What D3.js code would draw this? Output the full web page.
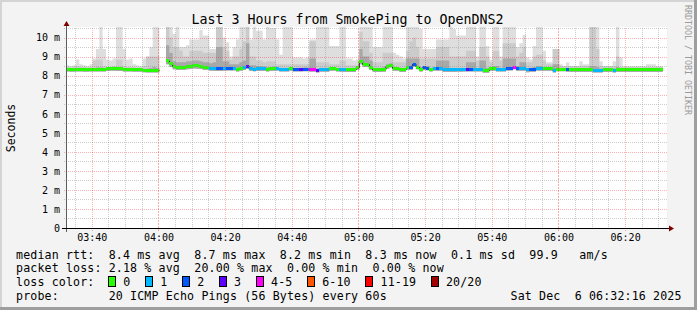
<!DOCTYPE html>
<html><head><meta charset="utf-8">
<script src="https://cdn.jsdelivr.net/npm/d3@7"></script>
<style>
html,body{margin:0;padding:0;background:#f3f3f3;overflow:hidden}
svg{display:block}
text{font-family:"DejaVu Sans Mono",monospace;fill:#000}
</style></head><body>
<svg id="c" width="697" height="310"></svg>
<script>
// ---------- DATA (one value per minute, 03:32:16 → 06:32:16) ----------
const startTime = new Date(2025, 11, 6, 3, 32, 16);
const stepMinutes = 1;
const median = [
 8.32,8.30,8.30,8.32,8.33,8.30,8.30,8.31,8.33,8.33,
 8.33,8.33,8.35,8.37,8.37,8.36,8.35,8.33,8.33,8.32,
 8.31,8.30,8.30,8.28,8.27,8.27,8.27,8.27,null,null,
 8.77,8.62,8.47,8.45,8.45,8.45,8.48,8.50,8.55,8.52,
 8.50,8.42,8.42,8.37,8.37,8.36,8.35,8.37,8.38,8.38,
 8.38,8.32,8.38,8.42,8.48,8.35,8.34,8.35,8.35,8.35,
 8.33,8.35,8.38,8.36,8.32,8.32,8.33,8.36,8.32,8.33,
 8.32,8.34,8.34,8.32,8.32,8.27,8.31,8.31,8.31,8.37,
 8.38,8.33,8.31,8.30,8.30,8.30,8.30,8.42,8.74,8.58,
 8.58,8.41,8.30,8.30,8.30,8.32,8.49,8.55,8.37,8.37,
 8.30,8.30,8.41,8.41,8.60,8.45,8.32,8.42,8.40,8.32,
 8.36,8.36,8.37,8.30,8.30,8.30,8.30,8.31,8.31,8.32,
 8.32,8.32,8.32,8.32,8.32,8.27,8.27,8.36,8.36,8.32,
 8.32,8.32,8.38,8.38,8.45,8.37,8.37,8.36,8.30,8.32,
 8.32,8.36,8.36,8.36,8.36,8.36,8.29,8.34,8.34,8.34,
 8.31,8.30,8.30,8.30,8.30,8.30,8.30,8.30,8.29,8.29,
 8.29,8.30,8.30,8.30,8.29,8.30,8.30,8.30,8.30,8.30,
 8.30,8.30,8.30,8.30,8.30,8.30,8.30,8.30,8.30,null];
// lost pings (out of 20) per minute
const lossCount = [
 0,0,0,0,0,0,0,0,0,0, 0,0,0,0,0,0,0,0,0,0,
 0,0,0,0,0,0,0,0,0,0, 0,0,0,0,0,0,0,0,0,0,
 0,0,0,1,1,2,2,1,2,2, 1,0,0,1,3,1,1,1,1,1,
 0,0,0,1,1,1,1,0,2,2, 3,2,2,4,4,3,1,1,1,0,
 0,0,1,1,0,0,0,0,0,0, 0,0,0,0,0,0,0,0,0,0,
 0,0,0,2,2,0,0,2,2,0, 1,2,1,1,1,1,1,1,1,1,
 3,2,1,1,1,0,0,0,0,1, 1,1,2,2,4,2,1,1,1,2,
 2,1,1,0,0,0,1,0,0,0, 2,0,0,0,0,0,0,0,1,1,
 1,0,0,0,1,0,0,0,0,0, 0,0,0,0,0,0,0,0,0,0];
const smokeMax = [
 8.55,8.50,8.55,8.85,8.60,8.55,8.50,8.60,8.90,9.40,
 10.6,9.40,8.85,8.80,8.90,10.6,10.6,9.40,8.85,8.90,
 8.60,8.55,8.50,8.90,8.95,9.50,10.6,10.6,null,null,
 10.6,10.6,10.2,10.6,9.50,9.50,9.60,9.90,9.90,9.90,
 10.4,10.1,10.1,9.40,9.40,10.6,10.6,10.0,9.75,9.00,
 9.50,9.90,10.6,10.6,10.6,9.90,10.6,10.35,10.35,9.90,
 10.6,10.5,10.5,9.90,9.10,10.6,10.6,10.6,8.95,8.95,
 8.95,8.90,8.95,9.90,9.90,10.6,10.6,10.6,10.6,9.55,
 9.55,9.55,10.6,10.6,8.90,8.90,8.80,8.85,10.6,10.6,
 10.6,10.6,9.50,9.50,9.50,10.6,10.6,10.6,9.20,9.10,
 9.00,8.90,10.6,10.6,10.6,10.6,10.45,9.40,9.40,9.40,
 9.40,9.90,9.90,9.90,9.90,10.6,10.45,10.1,10.1,10.1,
 10.6,10.6,10.6,9.00,10.6,10.6,9.55,8.85,10.6,10.6,
 9.00,10.6,10.6,10.6,10.6,9.50,9.70,10.15,8.95,8.85,
 9.55,10.6,10.6,9.30,8.70,8.70,9.40,9.40,8.60,8.50,
 8.70,8.50,8.50,8.50,8.75,8.60,8.60,10.6,10.6,10.6,
 8.75,8.50,8.50,8.50,8.75,10.6,8.95,8.50,8.50,8.50,
 8.50,8.50,8.50,8.50,8.60,8.60,8.60,8.50,8.50,null];
const smokeMid = [
 8.45,8.42,8.45,8.50,8.45,8.45,8.42,8.45,8.80,8.85,
 8.85,8.50,8.45,8.45,8.50,8.85,8.85,8.50,8.45,8.45,
 8.45,8.42,8.42,8.50,9.00,9.00,9.00,9.00,null,null,
 10.6,10.0,9.50,9.50,9.30,9.00,9.00,9.30,9.30,9.30,
 9.30,9.20,9.20,9.20,9.20,10.6,10.6,9.50,9.30,8.85,
 9.00,9.00,9.40,9.80,10.6,9.00,9.00,8.80,8.80,8.70,
 8.75,8.75,8.75,8.60,8.60,8.60,8.60,8.60,8.60,8.60,
 8.60,8.60,8.60,9.80,9.80,8.70,8.70,8.70,8.70,8.60,
 8.60,8.60,8.80,8.80,8.55,8.55,8.55,8.55,10.3,9.80,
 9.80,9.20,8.70,8.70,8.70,9.20,9.20,9.20,8.70,8.70,
 8.70,8.70,9.30,9.80,10.0,9.50,8.90,8.90,8.90,8.90,
 8.90,9.50,9.50,9.50,9.50,9.00,9.00,9.00,9.00,9.00,
 9.30,9.30,9.30,8.80,9.50,9.50,9.00,8.70,9.30,9.30,
 8.80,9.70,9.70,9.70,9.70,9.00,9.20,9.50,8.70,8.70,
 9.00,9.10,9.10,8.80,8.60,8.60,9.40,9.40,8.50,8.50,
 8.50,8.50,8.50,8.50,8.50,8.50,8.50,10.6,10.6,9.40,
 8.50,8.50,8.50,8.50,8.50,9.00,8.45,8.45,8.45,8.45,
 8.45,8.45,8.45,8.45,8.45,8.45,8.45,8.45,8.45,null];
const smokeDark = [
 8.38,8.36,8.36,8.38,8.39,8.36,8.36,8.37,8.40,8.42,
 8.42,8.40,8.40,8.42,8.42,8.45,8.45,8.40,8.38,8.38,
 8.37,8.36,8.36,8.34,8.36,8.40,8.45,8.40,null,null,
 9.60,9.20,8.75,8.70,8.70,8.70,8.75,8.75,8.80,8.80,
 8.75,8.70,8.70,8.65,8.70,9.50,9.50,8.75,8.75,8.60,
 8.60,8.60,8.70,8.80,9.70,8.55,8.55,8.50,8.50,8.48,
 8.45,8.45,8.48,8.45,8.40,8.40,8.40,8.45,8.40,8.40,
 8.40,8.42,8.42,8.90,8.90,8.36,8.38,8.38,8.38,8.45,
 8.45,8.40,8.40,8.40,8.36,8.36,8.36,8.50,9.40,9.00,
 9.00,8.80,8.40,8.40,8.40,8.45,8.60,8.65,8.45,8.45,
 8.40,8.40,8.90,8.90,8.90,8.90,8.45,8.50,8.50,8.40,
 8.45,8.80,8.80,8.80,8.80,8.40,8.40,8.40,8.40,8.40,
 8.70,8.70,8.70,8.40,8.80,8.80,8.40,8.40,8.50,8.50,
 8.40,8.90,8.90,8.90,8.90,8.50,8.70,8.70,8.40,8.40,
 8.45,8.50,8.50,8.45,8.45,8.45,8.60,8.60,8.40,8.40,
 8.40,8.38,8.38,8.38,8.38,8.38,8.38,8.50,8.50,8.45,
 8.38,8.38,8.38,8.38,8.38,8.45,8.38,8.38,8.38,8.38,
 8.38,8.38,8.38,8.38,8.38,8.38,8.38,8.38,8.38,null];
const smokeMin = [
 8.22,8.20,8.20,8.22,8.22,8.20,8.20,8.21,8.22,8.22,
 8.22,8.22,8.24,8.25,8.25,8.24,8.24,8.22,8.22,8.21,
 8.20,8.20,8.20,8.18,8.17,8.17,8.17,8.17,null,null,
 8.60,8.45,8.33,8.30,8.30,8.30,8.33,8.35,8.38,8.36,
 8.35,8.30,8.30,8.26,8.26,8.24,8.24,8.26,8.27,8.27,
 8.27,8.22,8.26,8.30,8.35,8.24,8.23,8.24,8.24,8.24,
 8.22,8.24,8.26,8.25,8.21,8.21,8.22,8.25,8.21,8.22,
 8.21,8.23,8.23,8.20,8.20,8.16,8.20,8.20,8.20,8.26,
 8.26,8.22,8.20,8.19,8.19,8.19,8.19,8.30,8.60,8.45,
 8.45,8.30,8.19,8.19,8.19,8.20,8.36,8.42,8.26,8.26,
 8.19,8.19,8.30,8.30,8.48,8.33,8.21,8.30,8.28,8.21,
 8.25,8.25,8.26,8.19,8.19,8.19,8.19,8.20,8.20,8.21,
 8.21,8.21,8.21,8.21,8.21,8.15,8.15,8.25,8.25,8.21,
 8.21,8.21,8.27,8.27,8.33,8.26,8.26,8.25,8.18,8.20,
 8.20,8.25,8.25,8.25,8.25,8.25,8.17,8.23,8.23,8.23,
 8.20,8.19,8.19,8.19,8.19,8.19,8.19,8.19,8.17,8.17,
 8.17,8.19,8.19,8.19,8.17,8.19,8.19,8.19,8.19,8.19,
 8.19,8.19,8.19,8.19,8.19,8.19,8.19,8.19,8.19,null];

const lossBins   = [0, 1, 2, 3, 5, 10, 19, 20];          // upper bound of each bin
const lossLabels = ["0", "1", "2", "3", "4-5", "6-10", "11-19", "20/20"];
const lossColors = ["#26ff00", "#00b8ff", "#0059ff", "#5e00ff", "#ff00f6", "#ff5500", "#ff0000", "#a10000"];

const titleText = "Last 3 Hours from SmokePing to OpenDNS2";
const yAxisTitle = "Seconds";
const yTickValues = [0,1,2,3,4,5,6,7,8,9,10];
const legendLines = [
  "median rtt:  8.4 ms avg  8.7 ms max  8.2 ms min  8.3 ms now  0.1 ms sd  99.9   am/s",
  "packet loss: 2.18 % avg  20.00 % max  0.00 % min  0.00 % now"
];
const lossLegendTitle = "loss color:";
const probeText = "probe:       20 ICMP Echo Pings (56 Bytes) every 60s";
const dateText = "Sat Dec  6 06:32:16 2025";
const watermark = "RRDTOOL / TOBI OETIKER";

// ---------- LAYOUT ----------
const W = 697, H = 310;
const X0 = 66, X1 = 666, YT = 28, YB = 228;
const endTime = new Date(+startTime + 3 * 3600 * 1000);
const svg = d3.select("#c");

const x = d3.scaleTime().domain([startTime, endTime]).range([X0, X1]);
const y = d3.scaleLinear().domain([0, 10.5]).range([YB, YT]);
const tAt = i => new Date(+startTime + i * stepMinutes * 60000);
const lossColor = c => lossColors[lossBins.findIndex(b => c <= b)];

// background + frame
svg.append("rect").attr("width", W).attr("height", H).attr("fill", "#f3f3f3");
svg.append("rect").attr("x", 0).attr("y", 0).attr("width", W).attr("height", 2).attr("fill", "#d4d4d4");
svg.append("rect").attr("x", 0).attr("y", 0).attr("width", 2).attr("height", H).attr("fill", "#d4d4d4");
svg.append("rect").attr("x", 0).attr("y", H - 3).attr("width", W).attr("height", 3).attr("fill", "#9e9e9e");
svg.append("rect").attr("x", W - 3).attr("y", 0).attr("width", 3).attr("height", H).attr("fill", "#9e9e9e");

// canvas
svg.append("rect").attr("x", X0).attr("y", YT - 1).attr("width", X1 - X0 + 1).attr("height", YB - YT + 1).attr("fill", "#fff");

svg.append("clipPath").attr("id", "clip").append("rect")
  .attr("x", X0).attr("y", YT - 1).attr("width", X1 - X0 + 1).attr("height", YB - YT + 1);
const plot = svg.append("g").attr("clip-path", "url(#clip)");

function stepPoints(lo, hi) {
  const pts = [];
  for (let i = 0; i < lo.length; i++) {
    if (lo[i] == null || hi[i] == null) { pts.push(null); continue; }
    pts.push({ i: i, lo: lo[i], hi: hi[i] }, { i: i + 1, lo: lo[i], hi: hi[i] });
  }
  return pts;
}
const area = d3.area().defined(d => d != null)
  .x(d => x(tAt(d.i))).y0(d => y(d.lo)).y1(d => y(d.hi));

plot.append("path").attr("d", area(stepPoints(smokeMin, smokeMax))).attr("fill", "#dedede");
plot.append("path").attr("d", area(stepPoints(smokeMin, smokeMid))).attr("fill", "#cbcbcb");
plot.append("path").attr("d", area(stepPoints(smokeMin, smokeDark))).attr("fill", "#a8a8a8");

// grid
const grid = svg.append("g").attr("shape-rendering", "crispEdges");
const minorTimes = d3.timeMinute.every(5).range(startTime, endTime);
const majorTimes = d3.timeMinute.every(20).range(startTime, endTime);
const isMajor = t => t.getMinutes() % 20 === 0;
const GRIDC = "rgba(143,143,143,0.45)", MGRIDC = "rgba(240,0,0,0.3)";
grid.selectAll(".vmin").data(minorTimes.filter(t => !isMajor(t))).join("line")
  .attr("x1", d => Math.round(x(d)) + 0.5).attr("x2", d => Math.round(x(d)) + 0.5)
  .attr("y1", YT).attr("y2", YB + 2)
  .attr("stroke", GRIDC).attr("stroke-dasharray", "1,1");
grid.selectAll(".vmaj").data(majorTimes).join("line")
  .attr("x1", d => Math.round(x(d)) + 0.5).attr("x2", d => Math.round(x(d)) + 0.5)
  .attr("y1", YT).attr("y2", YB + 4)
  .attr("stroke", d => d.getMinutes() === 0 ? "rgba(240,0,0,0.32)" : MGRIDC)
  .attr("stroke-dasharray", d => d.getMinutes() === 0 ? "2,1" : "1,1");
const hMinor = d3.range(0.5, 10.6, 1);
grid.selectAll(".hmin").data(hMinor).join("line")
  .attr("x1", X0 - 2).attr("x2", X1 + 2)
  .attr("y1", d => Math.round(y(d)) + 0.5).attr("y2", d => Math.round(y(d)) + 0.5)
  .attr("stroke", GRIDC).attr("stroke-dasharray", "1,1");
grid.selectAll(".hmaj").data(yTickValues.filter(v => v > 0)).join("line")
  .attr("x1", X0 - 2).attr("x2", X1 + 2)
  .attr("y1", d => Math.round(y(d)) + 0.5).attr("y2", d => Math.round(y(d)) + 0.5)
  .attr("stroke", MGRIDC).attr("stroke-dasharray", "1,1");

// median line (dark step line under colored loss bars)
const medPts = [];
median.forEach((m, i) => {
  if (m == null) { medPts.push(null); return; }
  medPts.push({ i: i, v: m }, { i: i + 1, v: m });
});
plot.append("path")
  .attr("d", d3.line().defined(d => d != null).x(d => x(tAt(d.i))).y(d => y(d.v))(medPts))
  .attr("fill", "none").attr("stroke", "#202020").attr("stroke-width", 1);
plot.append("g").attr("shape-rendering", "crispEdges")
  .selectAll("rect").data(median.map((m, i) => ({ i: i, v: m, c: lossCount[i] })).filter(d => d.v != null))
  .join("rect")
  .attr("x", d => x(tAt(d.i))).attr("width", d => x(tAt(d.i + 1)) - x(tAt(d.i)))
  .attr("y", d => y(d.v) - 1.5).attr("height", 3)
  .attr("fill", d => lossColor(d.c));

// axes
svg.append("line").attr("x1", X0 + 0.5).attr("x2", X0 + 0.5).attr("y1", YB + 4).attr("y2", YT - 3)
  .attr("stroke", "#55605c").attr("shape-rendering", "crispEdges");
svg.append("line").attr("x1", X0 - 4).attr("x2", X1 + 3).attr("y1", YB + 0.5).attr("y2", YB + 0.5)
  .attr("stroke", "#000").attr("shape-rendering", "crispEdges");
svg.append("path").attr("d", `M${X0 - 2.5},${YT - 2}L${X0 + 0.5},${YT - 7}L${X0 + 3.5},${YT - 2}Z`).attr("fill", "#7f0000");
svg.append("path").attr("d", `M${X1 + 3},${YB - 2.5}L${X1 + 8},${YB + 0.5}L${X1 + 3},${YB + 3.5}Z`).attr("fill", "#7f0000");

// labels
svg.append("text").attr("x", 347.5).attr("y", 24).attr("text-anchor", "middle")
  .style("font-size", "13.3px").text(titleText);
svg.selectAll(".yl").data(yTickValues).join("text")
  .attr("x", 60).attr("y", d => y(d) + 3.8).attr("text-anchor", "end")
  .style("font-size", "10px").text(d => d === 0 ? "0" : d + " m");
svg.selectAll(".xl").data(majorTimes).join("text")
  .attr("x", d => x(d) + 0.5).attr("y", 241).attr("text-anchor", "middle")
  .style("font-size", "10px").text(d3.timeFormat("%H:%M"));
svg.append("text").attr("transform", "translate(15,128) rotate(-90)").attr("text-anchor", "middle")
  .style("font-size", "11.5px").text(yAxisTitle);
svg.append("text").attr("transform", "translate(684.5,5) rotate(90)")
  .style("font-size", "8.3px").style("fill", "#9a9a9a").text(watermark);

// legend
const LX = 16, CW = 7.13;
const lg = svg.append("g").style("font-size", "11.6px").style("letter-spacing", "0.15px").attr("xml:space", "preserve");
lg.selectAll(".ll").data(legendLines).join("text")
  .attr("x", LX).attr("y", (d, i) => 258.5 + i * 13.7).style("white-space", "pre").text(d => d);
lg.append("text").attr("x", LX).attr("y", 286).text(lossLegendTitle);
let bx = 108.5;
lossLabels.forEach((lab, k) => {
  lg.append("rect").attr("x", bx).attr("y", 276.5).attr("width", 7).attr("height", 10)
    .attr("fill", lossColors[k]).attr("stroke", "#000").attr("shape-rendering", "crispEdges");
  lg.append("text").attr("x", bx + 14.8).attr("y", 286).text(lab);
  bx = bx + 14.8 + lab.length * CW + 15;
});
lg.append("text").attr("x", LX).attr("y", 299.5).style("white-space", "pre").text(probeText);
lg.append("text").attr("x", 510.5).attr("y", 299.5).style("white-space", "pre").text(dateText);
</script>
</body></html>
